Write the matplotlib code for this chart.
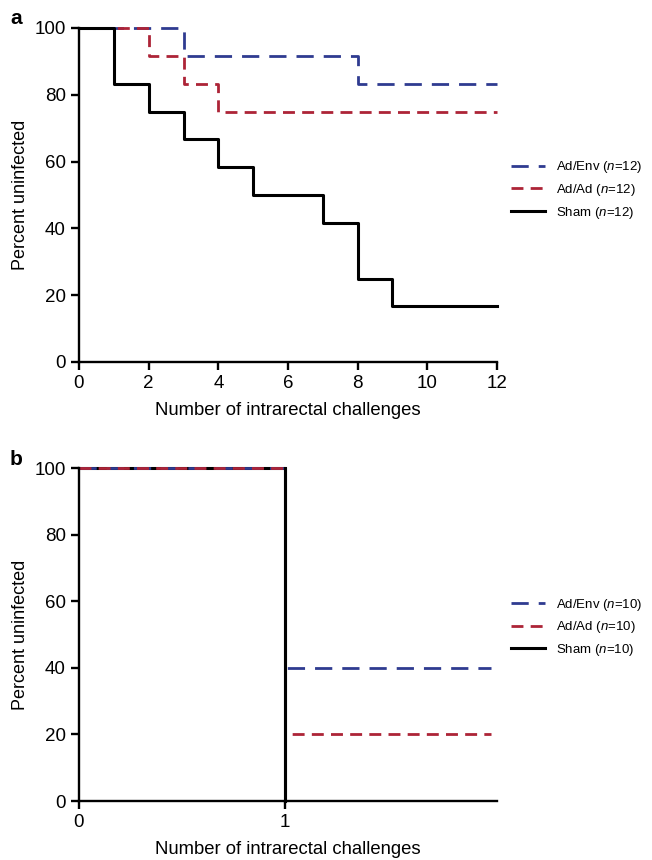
import matplotlib
matplotlib.use("Agg")
import matplotlib.pyplot as plt

plt.rcParams['font.family'] = ['Liberation Sans', 'DejaVu Sans']
plt.rcParams['mathtext.fontset'] = 'custom'
plt.rcParams['mathtext.rm'] = 'Liberation Sans'
plt.rcParams['mathtext.it'] = 'Liberation Sans:italic'

# Panel a data
a_x = [0, 1, 2, 3, 4, 5, 6, 7, 8, 9, 10, 11, 12]
a_env = [100, 100, 100, 91.67, 91.67, 91.67, 91.67, 91.67, 83.33, 83.33, 83.33, 83.33, 83.33]
a_ad = [100, 100, 91.67, 83.33, 75, 75, 75, 75, 75, 75, 75, 75, 75]
a_sham = [100, 83.33, 75, 66.67, 58.33, 50, 50, 41.67, 25, 16.67, 16.67, 16.67, 16.67]
a_labels = ['Ad/Env ($\\mathit{n}$=12)', 'Ad/Ad ($\\mathit{n}$=12)', 'Sham ($\\mathit{n}$=12)']

# Panel b data
b_x = [0, 1, 2]
b_env = [100, 40, 40]
b_ad = [100, 20, 20]
b_sham_x = [0, 1]
b_sham = [100, 0]
b_labels = ['Ad/Env ($\\mathit{n}$=10)', 'Ad/Ad ($\\mathit{n}$=10)', 'Sham ($\\mathit{n}$=10)']

BLUE = '#2f3b90'
RED = '#ad2437'
BLACK = '#000000'

fig = plt.figure(figsize=(6.52, 8.6), dpi=100)
ax_a = fig.add_axes([79/652, 1-362/860, 418/652, 334/860])
ax_b = fig.add_axes([79/652, 1-801/860, 418/652, 333/860])

def style(ax):
    for s in ['top', 'right']:
        ax.spines[s].set_visible(False)
    for s in ['left', 'bottom']:
        ax.spines[s].set_linewidth(1.7)
    ax.tick_params(direction='out', length=5.5, width=1.7, labelsize=13.5, pad=4)
    ax.set_ylim(0, 100)
    ax.set_yticks([0, 20, 40, 60, 80, 100])
    ax.set_ylabel('Percent uninfected', fontsize=13, labelpad=4)
    ax.set_xlabel('Number of intrarectal challenges', fontsize=13.3, labelpad=7)

# Panel a
l1, = ax_a.step(a_x, a_env, where='post', color=BLUE, lw=2.0, dashes=(6.2, 3.6), clip_on=False, label=a_labels[0])
l2, = ax_a.step(a_x, a_ad, where='post', color=RED, lw=2.0, dashes=(4.3, 2.6), clip_on=False, label=a_labels[1])
l3, = ax_a.step(a_x, a_sham, where='post', color=BLACK, lw=2.2, clip_on=False, label=a_labels[2])
style(ax_a)
ax_a.set_xlim(0, 12)
ax_a.set_xticks(range(0, 13, 2))
ax_a.legend(handles=[l1, l2, l3], loc='center left', bbox_to_anchor=(1.02, 0.515),
            frameon=False, fontsize=9.5, handlelength=2.6, handletextpad=0.85,
            labelspacing=0.5, borderaxespad=0)

# Panel b
m3, = ax_b.step(b_sham_x, b_sham, where='post', color=BLACK, lw=2.2, clip_on=False, label=b_labels[2])
m1, = ax_b.step(b_x, b_env, where='post', color=BLUE, lw=2.0, dashes=(6.2, 3.6), clip_on=False, label=b_labels[0])
m2, = ax_b.step(b_x, b_ad, where='post', color=RED, lw=2.0, dashes=(4.3, 2.6), clip_on=False, label=b_labels[1])
# black drop drawn on top of the dashed drops
ax_b.plot([b_sham_x[1], b_sham_x[1]], [b_sham[0], b_sham[1]], color=BLACK, lw=2.2, clip_on=False)
style(ax_b)
ax_b.set_xlim(0, 2.03)
ax_b.set_xticks([0, 1])
ax_b.legend(handles=[m1, m2, m3], loc='center left', bbox_to_anchor=(1.02, 0.522),
            frameon=False, fontsize=9.5, handlelength=2.6, handletextpad=0.85,
            labelspacing=0.5, borderaxespad=0)

fig.text(10/652, 1-18/860, 'a', fontsize=15, fontweight='bold', va='center', ha='left')
fig.text(10/652, 1-460/860, 'b', fontsize=15, fontweight='bold', va='center', ha='left')

fig.savefig('out.png', dpi=100)
